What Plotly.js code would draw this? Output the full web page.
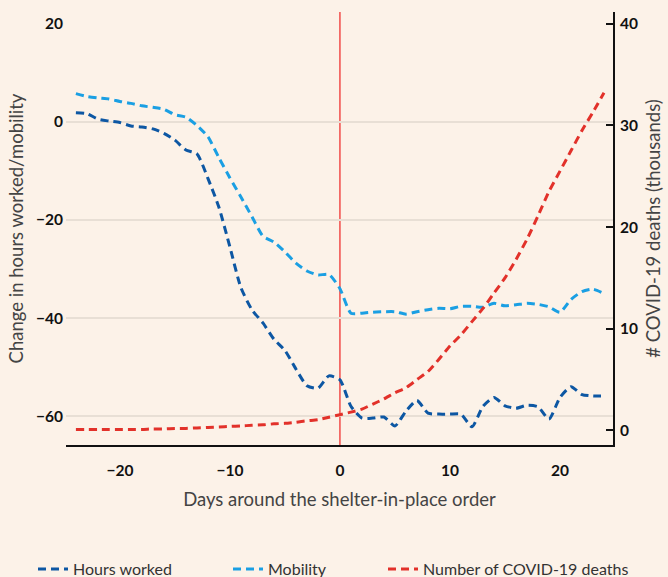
<!DOCTYPE html>
<html>
<head>
<meta charset="utf-8">
<script src="https://cdn.plot.ly/plotly-3.0.1.min.js"></script>
<style>
  html, body { margin: 0; padding: 0; background: #fcf2e8; }
  #chart { width: 668px; height: 577px; }
</style>
</head>
<body>
<div id="chart"></div>
<script>
// Days relative to the shelter-in-place order
const days = [-24,-23,-22,-21,-20,-19,-18,-17,-16,-15,-14,-13,-12,-11,-10,-9,-8,-7,-6,-5,-4,-3,-2,-1,
              0,1,2,3,4,5,6,7,8,9,10,11,12,13,14,15,16,17,18,19,20,21,22,23,24];

// Change in hours worked (%)
const hoursWorked = [1.9,1.7,0.6,0.2,-0.1,-0.8,-1.0,-1.4,-2.3,-3.7,-5.7,-6.5,-11.5,-17.4,-25.5,-33.8,-38.3,-41.0,-44.3,-46.6,-50.4,-53.8,-54.3,-51.8,
                     -52.6,-58.0,-60.4,-60.4,-60.2,-62.0,-59.0,-56.8,-59.4,-59.6,-59.6,-59.6,-62.2,-58.0,-56.2,-57.9,-58.4,-57.8,-58.1,-60.6,-56.2,-54.0,-55.6,-55.9,-55.9];

// Change in mobility (%)
const mobility = [5.8,5.2,4.9,4.7,4.2,3.8,3.3,3.0,2.6,1.5,1.0,-0.7,-3.0,-7.3,-11.4,-15.3,-19.3,-23.3,-24.5,-26.5,-28.8,-30.4,-31.2,-31.1,
                  -34.0,-39.0,-39.0,-38.8,-38.7,-38.7,-39.2,-38.7,-38.3,-38.0,-38.1,-37.6,-37.6,-37.8,-37.0,-37.5,-37.3,-37.0,-37.2,-37.7,-38.8,-36.2,-34.6,-34.1,-35.0];

// Number of COVID-19 deaths (thousands)
const deaths = [0.1,0.1,0.1,0.1,0.1,0.1,0.1,0.15,0.15,0.2,0.2,0.25,0.3,0.35,0.4,0.45,0.5,0.55,0.65,0.7,0.8,0.95,1.05,1.3,
                1.55,1.8,2.1,2.6,3.1,3.7,4.2,5.0,5.8,7.0,8.3,9.4,10.7,12.0,13.5,15.0,16.8,18.8,21.1,23.5,25.5,27.5,29.5,31.3,33.2];

const xTicks = [-20,-10,0,10,20];
const leftTicks = [20,0,-20,-40,-60];
const gridTicks = [0,-20,-40,-60];
const rightTicks = [0,10,20,30,40];
const orderDay = 0;

const FONT = 'Lato, "Open Sans", sans-serif';
const BG = '#fcf2e8';
const dashPat = '8px,5px';
const TITLE_SIZE = 18.5;
const TICK_FONT = {family: FONT, size: 15.5, color: '#111111', weight: 'bold'};

const traces = [
  {x: [0], y: [0], yaxis: 'y3', type: 'scatter', mode: 'none', showlegend: false, hoverinfo: 'skip'},
  {x: days, y: hoursWorked, type: 'scatter', mode: 'lines', name: 'Hours worked',
   line: {color: '#0d57a3', width: 3, dash: dashPat, shape: 'spline', smoothing: 0.6}, legend: 'legend', yaxis: 'y'},
  {x: days, y: mobility, type: 'scatter', mode: 'lines', name: 'Mobility',
   line: {color: '#1a9fe3', width: 3, dash: dashPat, shape: 'spline', smoothing: 0.6}, legend: 'legend2', yaxis: 'y'},
  {x: days, y: deaths, type: 'scatter', mode: 'lines', name: 'Number of COVID-19 deaths',
   line: {color: '#e2312a', width: 3, dash: dashPat, shape: 'spline', smoothing: 0.6}, legend: 'legend3', yaxis: 'y2'}
];

const legendBase = {orientation: 'h', xref: 'container', yref: 'container', yanchor: 'middle', y: 1 - 569/577,
  bgcolor: 'rgba(0,0,0,0)', font: {family: FONT, size: 16, color: '#333333'}};

const layout = {
  width: 668, height: 577,
  paper_bgcolor: BG, plot_bgcolor: BG,
  margin: {l: 66, r: 55, t: 12, b: 132},
  font: {family: FONT},
  xaxis: {
    range: [-24.9, 24.82], tickvals: xTicks, ticks: '', showgrid: false, zeroline: false,
    showline: true, linecolor: '#111111', linewidth: 2,
    tickfont: TICK_FONT,
    ticklabelstandoff: 10,
    title: {text: 'Days around the shelter-in-place order', font: {family: FONT, size: TITLE_SIZE, color: '#444444'}, standoff: 15}
  },
  yaxis: {
    range: [-65.9, 22.45], tickvals: leftTicks, ticks: '', showgrid: false, zeroline: false, showline: false,
    tickfont: TICK_FONT,
    ticklabelstandoff: 2,
    title: {text: 'Change in hours worked/mobility', font: {family: FONT, size: TITLE_SIZE, color: '#444444'}, standoff: 7}
  },
  yaxis3: {
    range: [-65.9, 22.45], overlaying: 'y', tickvals: gridTicks, showticklabels: false, ticks: '',
    showgrid: true, gridcolor: '#e8dfd5', gridwidth: 1.3, zeroline: false, showline: false, layer: 'below traces'
  },
  yaxis2: {
    range: [-1.43, 41.15], overlaying: 'y', side: 'right', tickvals: rightTicks,
    ticks: 'inside', ticklen: 7, tickwidth: 2, tickcolor: '#111111',
    showgrid: false, zeroline: false, showline: true, linecolor: '#111111', linewidth: 2,
    tickfont: TICK_FONT,
    ticklabelstandoff: 2,
    title: {text: '# COVID-19 deaths (thousands)', font: {family: FONT, size: TITLE_SIZE, color: '#444444'}, standoff: 10}
  },
  shapes: [
    {type: 'line', xref: 'x', yref: 'paper', x0: orderDay, x1: orderDay, y0: 0, y1: 1,
     line: {color: '#ee2222', width: 1.2}, layer: 'below'}
  ],
  legend: Object.assign({}, legendBase, {x: 33/668}),
  legend2: Object.assign({}, legendBase, {x: 228/668}),
  legend3: Object.assign({}, legendBase, {x: 383/668}),
  showlegend: true
};

Plotly.newPlot('chart', traces, layout, {displayModeBar: false, staticPlot: true});
</script>
</body>
</html>
